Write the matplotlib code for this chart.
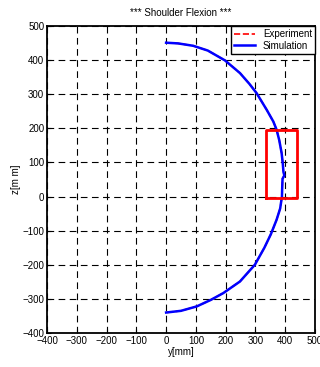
import matplotlib.pyplot as plt
import numpy as np

plt.rcParams['font.family'] = ['Liberation Sans', 'DejaVu Sans']

# trajectory: y[mm], z[mm]
traj_y = [0, 40, 91, 140, 198, 248, 280, 304, 338, 360, 371, 380, 388, 392, 394, 397, 391, 390, 389, 383, 371, 352, 330, 298, 248, 192, 150, 103, 50, 0]
traj_z = [451, 449, 442, 428, 399, 362, 330, 303, 254, 220, 196, 165, 127, 95, 72, 62, 52, 30, 0, -35, -68, -110, -150, -200, -249, -283, -303, -322, -335, -340]

# target box
box_y = [335, 438, 438, 335, 335]
box_z = [-5, -5, 195, 195, -5]

xticks = list(range(-400, 501, 100))
yticks = list(range(-400, 501, 100))

fig = plt.figure(figsize=(3.2, 3.67), dpi=100)
ax = fig.add_axes([47/320, 1 - 333/367, 268/320, 307/367])

ax.plot(traj_y, traj_z, 'r--', lw=1.2, label='Experiment')
ax.plot(traj_y, traj_z, 'b-', lw=1.8, label='Simulation')
ax.plot(box_y, box_z, color='red', lw=2)

ax.set_xlim(-400, 500)
ax.set_ylim(-400, 500)
ax.set_xticks(xticks)
ax.set_yticks(yticks)
ax.tick_params(direction='in', labelsize=7, length=3, pad=2)
ax.grid(True, color='black', linestyle=(0, (6, 4)), lw=0.8)
for s in ax.spines.values():
    s.set_linewidth(1.3)

ax.set_title('*** Shoulder Flexion ***', fontsize=7, pad=7)
ax.set_xlabel('y[mm]', fontsize=7, labelpad=1)
ax.set_ylabel('z[m m]', fontsize=7, labelpad=1)

leg = ax.legend(loc='upper right', fontsize=7, fancybox=False, framealpha=1,
                edgecolor='black', borderaxespad=0, handlelength=2.2,
                borderpad=0.3, labelspacing=0.2)
leg.get_frame().set_linewidth(1.0)

plt.savefig('out.png', dpi=100)
